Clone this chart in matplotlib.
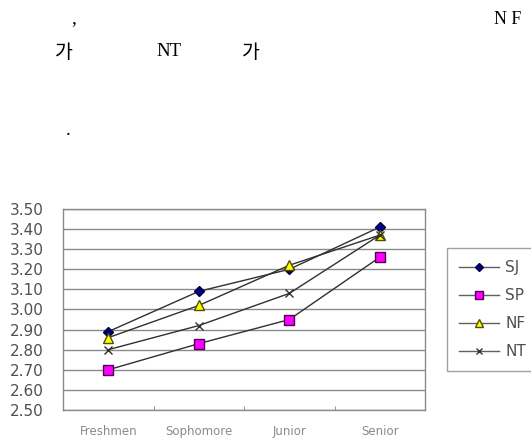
import matplotlib.pyplot as plt

plt.rcParams['font.family'] = ['DejaVu Sans']

years = ["Freshmen", "Sophomore", "Junior", "Senior"]
yticks = [2.50, 2.60, 2.70, 2.80, 2.90, 3.00, 3.10, 3.20, 3.30, 3.40, 3.50]

sj = [2.89, 3.09, 3.20, 3.41]
sp = [2.70, 2.83, 2.95, 3.26]
nf = [2.86, 3.02, 3.22, 3.37]
nt = [2.80, 2.92, 3.08, 3.37]

fig = plt.figure(figsize=(5.31, 4.44), dpi=100)

# text fragments above the chart
kr = ['Noto Sans CJK KR', 'DejaVu Sans']
fig.text(74 / 531, 1 - 23 / 444, ",", family='Liberation Serif', fontsize=14, ha='center', va='baseline')
fig.text(508 / 531, 1 - 24 / 444, "N F", family='Liberation Serif', fontsize=13, ha='center', va='baseline')
fig.text(64 / 531, 1 - 53 / 444, "가", family=kr, fontsize=14, ha='center', va='center')
fig.text(169 / 531, 1 - 52 / 444, "NT", family='Liberation Serif', fontsize=13.5, ha='center', va='center')
fig.text(251 / 531, 1 - 53 / 444, "가", family=kr, fontsize=14, ha='center', va='center')
fig.text(68 / 531, 1 - 135 / 444, ".", family='Liberation Serif', fontsize=14, ha='center', va='baseline')

ax = fig.add_axes([63 / 531, 34 / 444, 362 / 531, 201 / 444])

x = list(range(len(years)))
line_kw = dict(color='#303030', lw=1.0)
ax.plot(x, sj, marker='D', ms=5.5, mfc='#000080', mec='#000040', label='SJ', **line_kw)
ax.plot(x, sp, marker='s', ms=7, mfc='#ff00ff', mec='#500050', label='SP', **line_kw)
ax.plot(x, nf, marker='^', ms=6.5, mfc='#ffff00', mec='#505000', label='NF', **line_kw)
ax.plot(x, nt, marker='x', ms=6, mec='#303030', mew=1.0, label='NT', **line_kw)

ax.set_xlim(-0.5, len(years) - 0.5)
ax.set_ylim(2.5, 3.5)
ax.set_yticks(yticks)
ax.set_yticklabels([f"{v:.2f}" for v in yticks], fontsize=11, color='#505050')
ax.yaxis.grid(True, color='#8a8a8a', lw=1.0)
ax.set_axisbelow(True)
ax.tick_params(axis='y', length=0, pad=14)

ax.set_xticks(x)
ax.set_xticklabels(years, fontsize=8.5, color='#8a8a8a')
ax.set_xticks([0.5, 1.5, 2.5], minor=True)
ax.tick_params(axis='x', which='major', length=0, pad=11)
ax.tick_params(axis='x', which='minor', length=3, direction='in', color='#808080')

for s in ax.spines.values():
    s.set_color('#8a8a8a')
    s.set_linewidth(1.0)

leg = fig.legend(loc='upper left', bbox_to_anchor=(447 / 531, 1 - 248 / 444),
                 frameon=True, fancybox=False, edgecolor='#8a8a8a',
                 fontsize=11, labelcolor='#505050', handlelength=2.6,
                 labelspacing=0.85, borderpad=0.8, handletextpad=0.4,
                 borderaxespad=0, markerscale=0.8)
leg.get_frame().set_linewidth(1.0)
for h in leg.get_lines():
    h.set_color('#606060')

fig.savefig("out.png", dpi=100)
